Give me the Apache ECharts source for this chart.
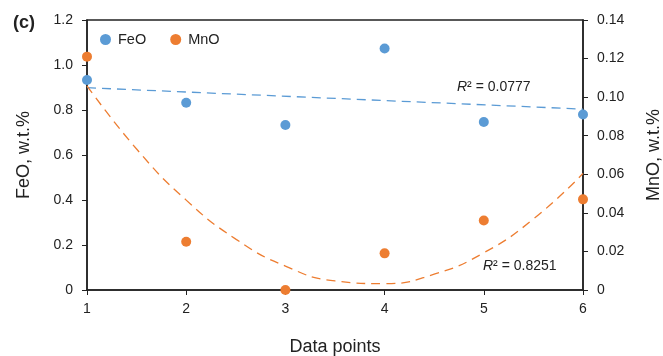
<!DOCTYPE html>
<html>
<head>
<meta charset="utf-8">
<style>
  html, body { margin: 0; padding: 0; background: #fff; }
  .chart { width: 663px; height: 356px; }
</style>
<script src="https://cdn.jsdelivr.net/npm/echarts@6/dist/echarts.min.js"></script>
</head>
<body>
<div class="chart"></div>
<script>
// 数据点
const points = [1, 2, 3, 4, 5, 6]
const feo = [0.933, 0.832, 0.733, 1.073, 0.747, 0.78]
const mno = [0.121, 0.025, 0, 0.019, 0.036, 0.047]
// 趋势线
const feoTrendX = [1, 6]
const feoTrendY = [0.899, 0.804]
const mnoTrendX = [1, 1.5, 2, 2.5, 3, 3.5, 4, 4.5, 5, 5.5, 6]
const mnoTrendY = [0.1059, 0.0731, 0.0466, 0.0264, 0.0124, 0.0047, 0.0033, 0.0082, 0.0193, 0.0368, 0.0604]
// 刻度
const feoTicks = [0, 1.2, 0.2]
const mnoTicks = [0, 0.14, 0.02]

const font = "'Liberation Sans', Arial, sans-serif"
const axisColor = '#222'
const blue = '#5b9bd5'
const orange = '#ed7d31'

function pairs(xs, ys) {
  return xs.map((x, i) => [x, ys[i]])
}

const option = {
  animation: false,
  textStyle: { fontFamily: font },
  grid: {
    left: 87,
    right: 80,
    top: 20,
    bottom: 66,
    outerBoundsMode: 'none',
    show: true,
    borderColor: axisColor,
    borderWidth: 1.5,
  },
  legend: {
    data: ['FeO', 'MnO'],
    left: 100,
    top: 32,
    padding: 0,
    icon: 'circle',
    itemWidth: 11,
    itemHeight: 11,
    itemGap: 24,
    textStyle: { fontSize: 14.5, color: '#222', fontFamily: font, padding: [0, 0, 0, 2] },
  },
  xAxis: {
    type: 'value',
    min: 1,
    max: 6,
    interval: 1,
    name: 'Data points',
    nameLocation: 'middle',
    nameGap: 48,
    nameTextStyle: { fontSize: 18, color: '#222' },
    axisLine: { lineStyle: { color: axisColor, width: 1.5 } },
    axisTick: { length: 5, lineStyle: { color: axisColor } },
    axisLabel: { fontSize: 14, color: '#222', margin: 12 },
    splitLine: { show: false },
  },
  yAxis: [
    {
      type: 'value',
      min: feoTicks[0],
      max: feoTicks[1],
      interval: feoTicks[2],
      name: 'FeO, w.t.%',
      nameLocation: 'middle',
      nameRotate: 90,
      nameGap: 54,
      nameTextStyle: { fontSize: 18, color: '#222' },
      axisLine: { show: true, lineStyle: { color: axisColor, width: 1.5 } },
      axisTick: { show: true, length: 5, lineStyle: { color: axisColor } },
      axisLabel: {
        fontSize: 14,
        color: '#222',
        margin: 14,
        formatter: (v) => (v === 0 ? '0' : v.toFixed(1)),
      },
      splitLine: { show: false },
    },
    {
      type: 'value',
      position: 'right',
      min: mnoTicks[0],
      max: mnoTicks[1],
      interval: mnoTicks[2],
      name: 'MnO, w.t.%',
      nameLocation: 'middle',
      nameRotate: 90,
      nameGap: 62,
      nameTextStyle: { fontSize: 18, color: '#222' },
      axisLine: { show: true, lineStyle: { color: axisColor, width: 1.5 } },
      axisTick: { show: true, length: 5, lineStyle: { color: axisColor } },
      axisLabel: {
        fontSize: 14,
        color: '#222',
        margin: 14,
        formatter: (v) => (v === 0 ? '0' : v.toFixed(2)),
      },
      splitLine: { show: false },
    },
  ],
  // 标注
  graphic: [
    {
      type: 'text',
      left: 13,
      top: 14,
      style: { text: '(c)', font: 'bold 18px ' + font, fill: '#222' },
    },
    {
      type: 'text',
      left: 457,
      top: 80,
      style: {
        text: '{i|R}² = 0.0777',
        fill: '#222',
        font: '14px ' + font,
        rich: { i: { fontStyle: 'italic', fontSize: 14, fontFamily: font } },
      },
    },
    {
      type: 'text',
      left: 483,
      top: 259,
      style: {
        text: '{i|R}² = 0.8251',
        fill: '#222',
        font: '14px ' + font,
        rich: { i: { fontStyle: 'italic', fontSize: 14, fontFamily: font } },
      },
    },
  ],
  series: [
    {
      name: 'FeO trend',
      type: 'line',
      yAxisIndex: 0,
      symbol: 'none',
      lineStyle: { color: blue, width: 1.3, type: [9, 6] },
      data: pairs(feoTrendX, feoTrendY),
      z: 2,
    },
    {
      name: 'MnO trend',
      type: 'line',
      yAxisIndex: 1,
      symbol: 'none',
      smooth: true,
      lineStyle: { color: orange, width: 1.3, type: [9, 6] },
      data: pairs(mnoTrendX, mnoTrendY),
      z: 2,
    },
    {
      name: 'FeO',
      type: 'scatter',
      yAxisIndex: 0,
      symbolSize: 10,
      itemStyle: { color: blue, opacity: 1 },
      data: pairs(points, feo),
      z: 3,
    },
    {
      name: 'MnO',
      type: 'scatter',
      yAxisIndex: 1,
      symbolSize: 10,
      itemStyle: { color: orange, opacity: 1 },
      data: pairs(points, mno),
      z: 3,
    },
  ],
}
echarts.init(document.querySelector('.chart')).setOption(option)
</script>
</body>
</html>
